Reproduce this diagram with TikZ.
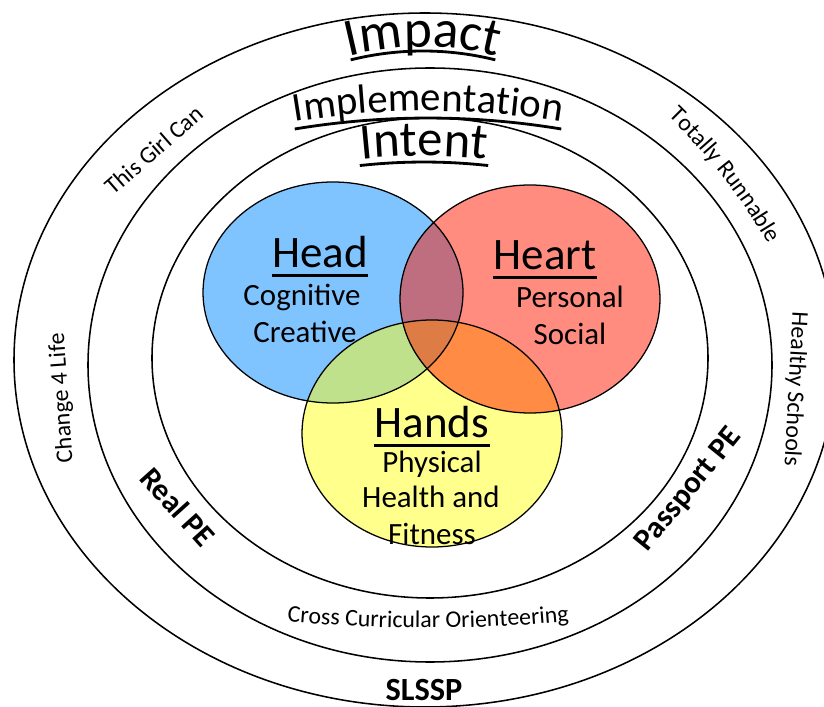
\documentclass[tikz,border=0pt]{standalone}
\usepackage{fontspec}
\setmainfont{Carlito}
\usetikzlibrary{
  decorations.text,
  positioning,
}
\definecolor{headblue}{RGB}{0,136,255}
\definecolor{heartred}{RGB}{255,25,0}
\definecolor{handsyellow}{RGB}{255,255,25}
\tikzset{
  ring/.style={draw, line width=1.1pt},
  blob/.style={fill opacity=0.5},
  title/.style={inner sep=0pt, anchor=base, font=\fontsize{32}{34}\selectfont},
  sub/.style={inner sep=0pt, anchor=base, font=\fontsize{22}{24}\selectfont},
  band/.style={inner sep=0pt, font=\fontsize{17}{20}\selectfont},
  strong/.style={inner sep=0pt, font=\bfseries\fontsize{22}{24}\selectfont},
  uline/.style={line width=2pt},
}

\begin{document}
\begin{tikzpicture}[x=0.025cm, y=0.025cm]
  \useasboundingbox (0,0) rectangle (824,706);
  \clip (0,0) rectangle (824,706);

  % the three bands
  \draw[ring] (425,346) ellipse [x radius=411, y radius=347];
  \draw[ring] (430,341) ellipse [x radius=342, y radius=297];
  \draw[ring] (430,348) ellipse [x radius=278, y radius=240];

  % head, heart and hands
  \fill[headblue, blob] (333,413.5) ellipse [x radius=130, y radius=110.5];
  \fill[handsyellow, blob] (432,272.5) ellipse [x radius=130, y radius=113.5];
  \fill[heartred, blob] (530,407) ellipse [x radius=130, y radius=114];
  \draw[line width=0.9pt] (333,413.5) ellipse [x radius=130, y radius=110.5];
  \draw[line width=0.9pt] (432,272.5) ellipse [x radius=130, y radius=113.5];
  \draw[line width=0.9pt] (530,407) ellipse [x radius=130, y radius=114];

  \node[title] (head) at (320,438) {Head};
  \node[sub] (cognitive) at (302,400) {Cognitive};
  \node[sub] (creative) at (305,363) {Creative};
  \node[title] (heart) at (545,436) {Heart};
  \node[sub] (personal) at (570,398) {Personal};
  \node[sub] (social) at (570,361) {Social};
  \node[title] (hands) at (432,268) {Hands};
  \node[sub] (physical) at (432,234) {Physical};
  \node[sub] (health) at (431,198) {Health and};
  \node[sub] (fitness) at (432,161) {Fitness};

  \draw[uline] ([yshift=-5.5pt]head.base west) -- ([yshift=-5.5pt]head.base east);
  \draw[uline] ([yshift=-5.5pt]heart.base west) -- ([yshift=-5.5pt]heart.base east);
  \draw[uline] ([yshift=-5.5pt]hands.base west) -- ([yshift=-5.5pt]hands.base east);

  % curved headings
  \path[decorate, decoration={text along path, text align=center,
    text={|\fontsize{38}{40}\selectfont|Impact}}]
    (423,356) ++(125:303) arc[start angle=125, end angle=55, radius=303];
  \draw[uline] (423,356) ++(104:299) arc[start angle=104, end angle=76, radius=299];

  \path[decorate, decoration={text along path, text align=center,
    text={|\fontsize{29}{32}\selectfont|Implementation}}]
    (428,-228) ++(110:823) arc[start angle=110, end angle=70, radius=823];
  \draw[uline] (428,-228) ++(99.4:816) arc[start angle=99.4, end angle=80.6, radius=816];

  \path[decorate, decoration={text along path, text align=center,
    text={|\fontsize{36}{38}\selectfont|Intent}}]
    (424,-41) ++(105:591) arc[start angle=105, end angle=75, radius=591];
  \draw[uline] (424,-41) ++(96.3:585) arc[start angle=96.3, end angle=83.7, radius=585];

  \path[decorate, decoration={text along path, text align=center,
    text={|\fontsize{17}{20}\selectfont|Totally Runnable}}]
    (250,160) ++(53:600) arc[start angle=53, end angle=23, radius=600];

  \path[decorate, decoration={text along path, text align=center,
    text={|\fontsize{17}{20}\selectfont|Cross Curricular Orienteering}}]
    (428,1578) ++(262:1500) arc[start angle=262, end angle=278, radius=1500];

  % band labels
  \node[band, rotate=41] (girl) at (154,556) {This Girl Can};
  \node[band, rotate=94] (change) at (62,308) {Change 4 Life};
  \node[band, rotate=-93] (healthy) at (795,317) {Healthy Schools};
  \node[strong, rotate=-48] (realpe) at (178,199) {Real PE};
  \node[strong, rotate=51] (passport) at (689,216) {Passport PE};
  \node[strong, font=\bfseries\fontsize{23}{25}\selectfont] (slssp) at (424,16) {SLSSP};
\end{tikzpicture}
\end{document}
